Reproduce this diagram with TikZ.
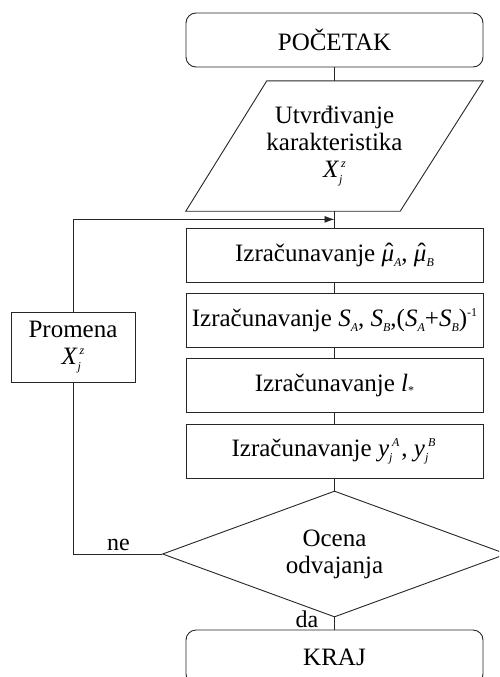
\documentclass[tikz,border=0pt]{standalone}
\usepackage{fontspec}
\setmainfont{Liberation Serif}
\usetikzlibrary{shapes.geometric,arrows.meta,calc}
\newcommand{\smallf}{\fontsize{12}{12}\selectfont}
\newcommand{\Xjz}{\textit{X}\rlap{\raisebox{-6pt}{\smallf\textit{j}}}\raisebox{10pt}{\smallf\kern2pt\textit{z}}}
\newcommand{\sbs}[1]{\raisebox{-5pt}{\smallf\textit{#1}}}
\newcommand{\sps}[1]{\raisebox{10pt}{\smallf #1}}
\newcommand{\muhat}{\ooalign{\textit{μ}\cr\hidewidth\kern3pt\raisebox{1pt}{ˆ}\hidewidth\cr}}
\newcommand{\ysb}[1]{\textit{y}\makebox[9pt][l]{\raisebox{-5pt}{\smallf\textit{j}}}\kern-6pt\raisebox{10pt}{\smallf\textit{#1}}\kern2pt}
\begin{document}
\begin{tikzpicture}[x=1pt,y=-1pt,
  every node/.style={font=\fontsize{25}{27}\selectfont},
  line/.style={draw=black!85, line width=0.9pt},
  proc/.style={rectangle, line, minimum width=297pt, minimum height=54pt, inner sep=0pt, align=center},
  term/.style={proc, rounded corners=10pt},
  lbl/.style={font=\fontsize{24}{24}\selectfont, inner sep=0pt}]
\useasboundingbox (0,0) rectangle (499,677);
\clip (0,0) rectangle (499,677);

\node[term] (start) at (334.5,40) {POČETAK};
\node[rectangle, minimum width=297pt, minimum height=130pt, inner sep=0pt, align=center] (par) at (334.5,146) {Utvrđivanje\\karakteristika\\\Xjz};
\draw[line] ($(par.north west)+(81,0)$) -- (par.north east) -- ($(par.south east)+(-83,0)$) -- (par.south west) -- cycle;

\node[proc] (b1) at (334.5,255) {Izračunavanje \muhat\sbs{A}, \muhat\sbs{B}};
\node[proc] (b2) at (334.5,320) {Izračunavanje \textit{S}\sbs{A}, \textit{S}\sbs{B},(\textit{S}\sbs{A}+\textit{S}\sbs{B})\sps{-1}};
\node[proc] (b3) at (334.5,385) {Izračunavanje \textit{l}\raisebox{-3pt}{\smallf *}};
\node[proc] (b4) at (334.5,451) {Izračunavanje \ysb{A}, \ysb{B}};
\node[diamond, line, aspect=2.73, minimum width=344pt, minimum height=126pt, inner sep=0pt, align=center] (dec) at (334.5,554) {Ocena\\odvajanja};
\node[rectangle, line, minimum width=124pt, minimum height=70pt, inner sep=0pt, align=center] (prom) at (73,347) {Promena\\\Xjz};
\node[term] (end) at (334.5,657) {KRAJ};

\coordinate (join) at ($(par.south)!0.5!(b1.north)$);

\draw[line] (start.south) -- (par.north);
\draw[line] (par.south) -- (b1.north);
\draw[line] (b1.south) -- (b2.north);
\draw[line] (b2.south) -- (b3.north);
\draw[line] (b3.south) -- (b4.north);
\draw[line] (b4.south) -- (dec.north);
\draw[line] (dec.south) -- (end.north);
\draw[line] (dec.west) -| (prom.south);
\draw[line, -{Latex[length=10pt,width=7pt]}] (prom.north) |- (join);

\node[lbl, anchor=base east] (da) at ($(dec.south)+(-16,10)$) {da};
\node[lbl, anchor=base east] (ne) at ($(dec.west)+(-32,-4)$) {ne};
\end{tikzpicture}
\end{document}
